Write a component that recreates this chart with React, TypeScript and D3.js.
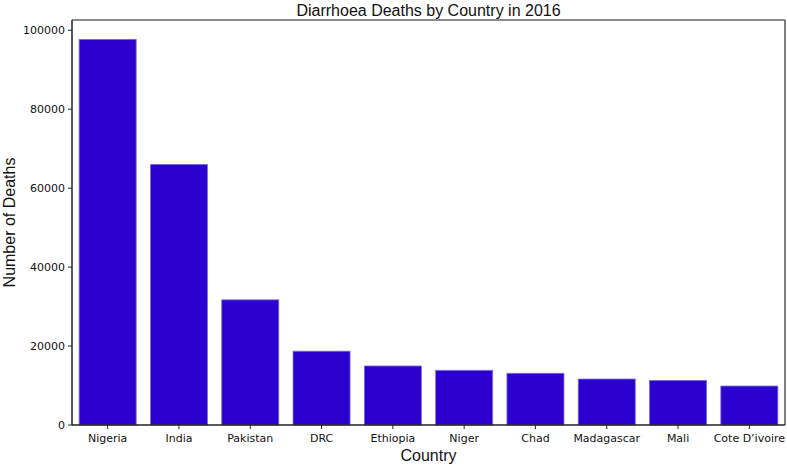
import React from 'react';
import * as d3 from 'd3';

const countries = ['Nigeria', 'India', 'Pakistan', 'DRC', 'Ethiopia', 'Niger', 'Chad', 'Madagascar', 'Mali', 'Cote D\u2019ivoire'];
const deaths = [97700, 66000, 31700, 18700, 14950, 13850, 13100, 11650, 11300, 9870];
const yTicks = [0, 20000, 40000, 60000, 80000, 100000];

const W = 787, H = 465;
const margin = { top: 20, right: 2, bottom: 40, left: 72 };

const App = () => {
	const x = d3.scaleBand<string>().domain(countries).range([margin.left, W - margin.right]).paddingInner(0.2).paddingOuter(0.1);
	const y = d3.scaleLinear().domain([0, 102600]).range([H - margin.bottom, margin.top]);
	const bottom = H - margin.bottom;
	const tickFont = '"DejaVu Sans", sans-serif';
	const labelFont = '"Liberation Sans", Arial, sans-serif';

	return (
		<svg width={W} height={H} style={{ position: 'absolute', left: 0, top: 0 }}>
			<rect width={W} height={H} fill="#fff" />
			{countries.map((c, i) => (
				<rect key={c} x={x(c)} y={y(deaths[i])} width={x.bandwidth()} height={bottom - y(deaths[i])}
					fill="#2c00cf" stroke="#7b6de6" strokeWidth={0.8} />
			))}
			{/* frame */}
			<line x1={margin.left} x2={W - margin.right} y1={margin.top} y2={margin.top} stroke="#666" strokeWidth={1.5} />
			<line x1={W - margin.right} x2={W - margin.right} y1={margin.top} y2={bottom} stroke="#555" strokeWidth={1.5} />
			<line x1={margin.left} x2={margin.left} y1={margin.top} y2={bottom} stroke="#222" strokeWidth={1.5} />
			<line x1={margin.left} x2={W - margin.right} y1={bottom} y2={bottom} stroke="#222" strokeWidth={1.5} />
			{yTicks.map(t => (
				<g key={t}>
					<line x1={margin.left - 4} x2={margin.left} y1={y(t)} y2={y(t)} stroke="#222" strokeWidth={1} />
					<text x={margin.left - 7} y={y(t)} dy="0.35em" textAnchor="end" fontFamily={tickFont} fontSize={11} fill="#111">{t}</text>
				</g>
			))}
			{countries.map(c => {
				const cx = (x(c) as number) + x.bandwidth() / 2;
				return (
					<g key={c}>
						<line x1={cx} x2={cx} y1={bottom} y2={bottom + 4} stroke="#222" strokeWidth={1} />
						<text x={cx} y={bottom + 17} textAnchor="middle" fontFamily={tickFont} fontSize={11} fill="#111">{c}</text>
					</g>
				);
			})}
			<text x={(margin.left + W - margin.right) / 2} y={16} textAnchor="middle" fontFamily={labelFont} fontSize={16} fill="#111">Diarrhoea Deaths by Country in 2016</text>
			<text x={(margin.left + W - margin.right) / 2} y={461} textAnchor="middle" fontFamily={labelFont} fontSize={16} fill="#111">Country</text>
			<text transform={`translate(15,${(margin.top + bottom) / 2}) rotate(-90)`} textAnchor="middle" fontFamily={labelFont} fontSize={16} fill="#111">Number of Deaths</text>
		</svg>
	);
};

export default App;
